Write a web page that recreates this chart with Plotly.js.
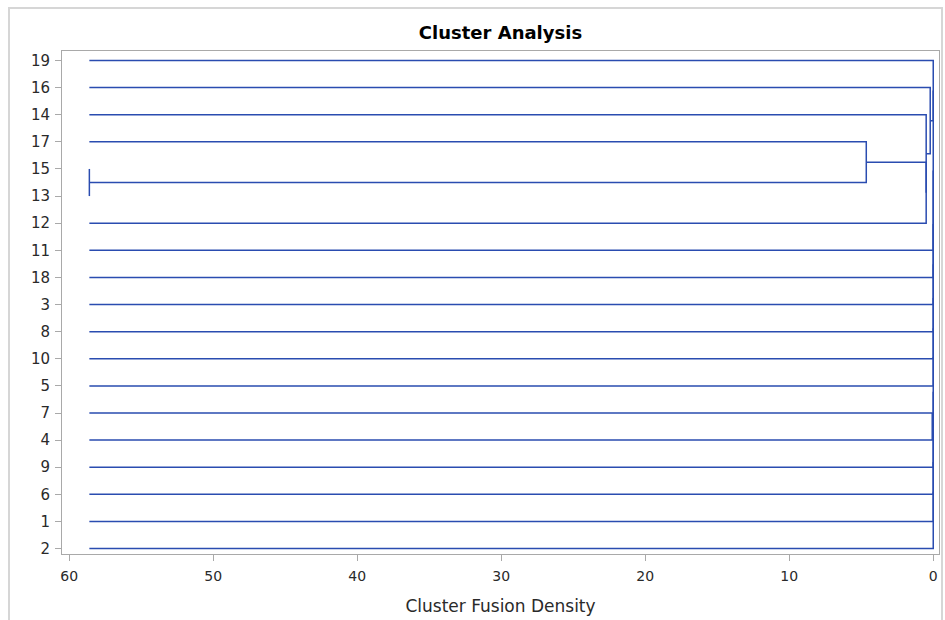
<!DOCTYPE html>
<html>
<head>
<meta charset="utf-8">
<script src="https://cdn.plot.ly/plotly-3.0.1.min.js"></script>
<style>
  html, body { margin: 0; padding: 0; background: #fff; overflow: hidden; }
  #wrap { position: relative; width: 945px; height: 620px; }
  #chart { position: absolute; left: 0; top: 0; width: 945px; height: 620px; }
  #frame { position: absolute; left: 8px; top: 7px; width: 931px; height: 700px;
           border: 2px solid #d6d6d6; pointer-events: none; }
</style>
</head>
<body>
<div id="wrap">
  <div id="chart"></div>
  <div id="frame"></div>
</div>
<script>
// Leaf order of the dendrogram, top to bottom
const leafLabels = ['19','16','14','17','15','13','12','11','18','3','8','10','5','7','4','9','6','1','2'];

// Merge history: cluster name, the two joined members, fusion density
const mergeNames   = ['CL18','CL17','CL16','CL15','CL14','CL13','CL12','CL11','CL10','CL9','CL8','CL7','CL6','CL5','CL4','CL3','CL2','CL1'];
const mergeLeft    = ['15','17','CL17','14','16','7','19','CL12','CL11','CL10','CL9','CL8','CL7','CL6','CL5','CL4','CL3','CL2'];
const mergeRight   = ['13','CL18','12','CL16','CL15','4','CL14','11','18','3','8','10','5','CL13','9','6','1','2'];
const mergeDensity = [58.6, 4.65, 0.49, 0.49, 0.21, 0.07, 0, 0, 0, 0, 0, 0, 0, 0, 0, 0, 0, 0];

// x-axis tick values
const xTicks = [0, 10, 20, 30, 40, 50, 60];

// Build the elbow segments of the tree
const leafStart = Math.max(...mergeDensity);
const pos = {}, lvl = {};
leafLabels.forEach((lab, i) => { pos[lab] = i; lvl[lab] = leafStart; });

const xs = [], ys = [];
mergeNames.forEach((name, k) => {
  const a = mergeLeft[k], b = mergeRight[k], h = mergeDensity[k];
  xs.push(lvl[a], h, h, lvl[b], null);
  ys.push(pos[a], pos[a], pos[b], pos[b], null);
  pos[name] = (pos[a] + pos[b]) / 2;
  lvl[name] = h;
});

const lineBlue = '#2a4cb0';
const axisGray = '#a9a9a9';
const font = 'DejaVu Sans, sans-serif';

const trace = {
  type: 'scatter', mode: 'lines',
  x: xs, y: ys,
  line: { color: lineBlue, width: 1.5 },
  connectgaps: false,
  hoverinfo: 'skip'
};

const layout = {
  width: 945, height: 620,
  margin: { l: 62, r: 6, t: 51, b: 66 },
  paper_bgcolor: '#fff', plot_bgcolor: '#fff',
  showlegend: false,
  title: {
    text: '<b>Cluster Analysis</b>',
    font: { family: font, size: 18, color: '#000' },
    x: 0.5, xref: 'paper', xanchor: 'center',
    y: 1 - 33 / 620, yref: 'container', yanchor: 'middle'
  },
  xaxis: {
    range: [60.5, -0.4],
    tickvals: xTicks, ticktext: xTicks.map(String),
    ticks: 'outside', ticklen: 6, tickcolor: axisGray, tickwidth: 1,
    ticklabelstandoff: 3,
    showline: true, linecolor: axisGray, linewidth: 1, mirror: true,
    showgrid: false, zeroline: false,
    tickfont: { family: font, size: 14, color: '#2a2a2a' },
    title: { text: 'Cluster Fusion Density', font: { family: font, size: 17, color: '#2a2a2a' }, standoff: 17 }
  },
  yaxis: {
    range: [18.2, -0.35],
    tickvals: leafLabels.map((_, i) => i), ticktext: leafLabels,
    ticks: 'outside', ticklen: 6, tickcolor: axisGray, tickwidth: 1,
    ticklabelstandoff: 2,
    showline: true, linecolor: axisGray, linewidth: 1, mirror: true,
    showgrid: false, zeroline: false,
    tickfont: { family: font, size: 15, color: '#2a2a2a' }
  }
};

Plotly.newPlot('chart', [trace], layout, { staticPlot: true, displayModeBar: false });
</script>
</body>
</html>
